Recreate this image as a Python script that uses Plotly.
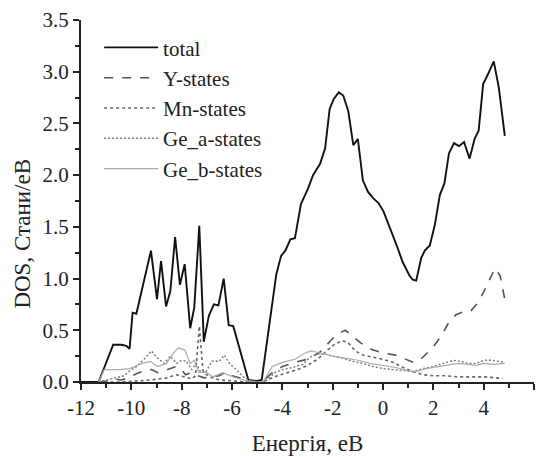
import plotly.graph_objects as go

# ---- data ----
total_E = [-12.0, -11.3, -10.72, -10.4, -10.2, -10.07, -9.95, -9.8, -9.22, -8.98, -8.82, -8.62, -8.45,
           -8.26, -8.07, -7.88, -7.66, -7.5, -7.3, -7.12, -6.92, -6.72, -6.54, -6.33, -6.13, -5.95,
           -5.35, -5.0, -4.82, -4.48, -4.24, -4.05, -3.88, -3.68, -3.5, -3.26, -2.98, -2.78, -2.5,
           -2.3, -2.12, -1.95, -1.76, -1.58, -1.38, -1.18, -1.0, -0.8, -0.6, -0.4, -0.18, 0.02,
           0.28, 0.56, 0.78, 1.05, 1.18, 1.32, 1.52, 1.66, 1.86, 2.06, 2.26, 2.44, 2.62, 2.82,
           3.02, 3.22, 3.44, 3.64, 3.8, 3.98, 4.18, 4.4, 4.6, 4.84]
total_dos = [0.0, 0.0, 0.36, 0.36, 0.35, 0.32, 0.67, 0.66, 1.27, 0.80, 1.17, 0.73, 0.88,
             1.40, 0.94, 1.14, 0.52, 0.72, 1.51, 0.39, 0.64, 0.75, 0.74, 1.00, 0.55, 0.54,
             0.02, 0.01, 0.02, 0.63, 1.04, 1.22, 1.27, 1.38, 1.39, 1.72, 1.87, 2.00, 2.11,
             2.26, 2.64, 2.74, 2.80, 2.77, 2.62, 2.29, 2.35, 1.95, 1.84, 1.78, 1.73, 1.65,
             1.49, 1.31, 1.16, 1.03, 0.99, 0.98, 1.20, 1.27, 1.32, 1.52, 1.81, 1.92, 2.21, 2.31,
             2.28, 2.32, 2.16, 2.35, 2.43, 2.88, 2.98, 3.10, 2.85, 2.38]

y_E = [-11.3, -11.0, -10.7, -10.4, -10.1, -9.8, -9.5, -9.2, -8.95, -8.7, -8.45, -8.2, -8.0, -7.85,
       -7.6, -7.35, -7.1, -6.8, -6.5, -6.3, -6.0, -5.7, -5.4, -5.0, -4.75, -4.45, -4.0, -3.5,
       -3.0, -2.5, -2.0, -1.75, -1.5, -1.2, -0.9, -0.5, 0.0, 0.5, 0.9, 1.2, 1.5, 1.7, 2.0, 2.3,
       2.6, 2.9, 3.2, 3.5, 3.75, 4.0, 4.2, 4.45, 4.65, 4.84]
y_dos = [0.0, 0.01, 0.03, 0.02, 0.04, 0.08, 0.11, 0.12, 0.09, 0.11, 0.13, 0.15, 0.12, 0.07,
         0.09, 0.06, 0.04, 0.05, 0.06, 0.09, 0.06, 0.04, 0.01, 0.0, 0.01, 0.08, 0.15, 0.19,
         0.22, 0.29, 0.42, 0.47, 0.50, 0.44, 0.38, 0.32, 0.28, 0.26, 0.22, 0.19, 0.22, 0.27, 0.34, 0.44,
         0.57, 0.65, 0.68, 0.69, 0.76, 0.87, 0.98, 1.10, 1.03, 0.80]

mn_E = [-11.3, -10.5, -9.8, -9.2, -8.6, -8.2, -7.9, -7.6, -7.45, -7.3, -7.15, -6.9, -6.5, -6.0,
        -5.4, -4.8, -4.5, -4.2, -3.8, -3.4, -3.0, -2.6, -2.2, -1.9, -1.6, -1.35, -1.1, -0.8,
        -0.4, 0.0, 0.4, 0.8, 1.2, 1.6, 2.0, 2.5, 3.0, 3.5, 4.0, 4.5, 4.75]
mn_dos = [0.0, 0.0, 0.01, 0.02, 0.04, 0.07, 0.05, 0.03, 0.06, 0.54, 0.10, 0.05, 0.02, 0.01,
          0.0, 0.0, 0.03, 0.06, 0.09, 0.12, 0.16, 0.22, 0.31, 0.37, 0.40, 0.37, 0.30, 0.26,
          0.24, 0.22, 0.19, 0.14, 0.10, 0.07, 0.06, 0.06, 0.05, 0.05, 0.05, 0.04, 0.035]

gea_E = [-11.3, -11.0, -10.6, -10.3, -10.05, -9.78, -9.5, -9.2, -8.96, -8.7, -8.45, -8.2, -8.0,
         -7.8, -7.6, -7.42, -7.25, -7.05, -6.8, -6.5, -6.3, -6.1, -5.8, -5.5, -5.25, -4.9, -4.6,
         -4.3, -4.0, -3.6, -3.2, -2.9, -2.6, -2.3, -2.0, -1.6, -1.2, -0.8, -0.4, 0.0, 0.4, 0.8,
         1.2, 1.6, 2.0, 2.4, 2.8, 3.1, 3.4, 3.7, 4.0, 4.3, 4.6, 4.84]
gea_dos = [0.0, 0.02, 0.04, 0.06, 0.11, 0.15, 0.22, 0.30, 0.23, 0.18, 0.25, 0.18, 0.21,
           0.20, 0.12, 0.18, 0.10, 0.09, 0.20, 0.20, 0.26, 0.18, 0.11, 0.04, 0.01, 0.0, 0.02,
           0.09, 0.12, 0.14, 0.17, 0.24, 0.27, 0.27, 0.25, 0.23, 0.20, 0.18, 0.15, 0.13, 0.12, 0.11,
           0.10, 0.13, 0.15, 0.18, 0.21, 0.20, 0.18, 0.18, 0.21, 0.21, 0.20, 0.19]

geb_E = [-11.3, -11.08, -10.47, -10.06, -9.58, -9.24, -8.96, -8.6, -8.36, -8.14, -7.87, -7.66,
         -7.5, -7.32, -7.05, -6.77, -6.36, -5.95, -5.4, -5.0, -4.75, -4.4, -4.0, -3.5, -3.1,
         -2.85, -2.5, -2.0, -1.5, -1.0, -0.5, 0.0, 0.5, 1.0, 1.3, 1.7, 2.2, 2.7, 3.0, 3.4, 3.7,
         4.0, 4.4, 4.84]
geb_dos = [0.0, 0.12, 0.12, 0.13, 0.18, 0.20, 0.15, 0.18, 0.27, 0.33, 0.31, 0.18,
           0.21, 0.09, 0.10, 0.05, 0.09, 0.05, 0.01, 0.0, 0.01, 0.15, 0.19, 0.22, 0.28,
           0.30, 0.28, 0.25, 0.23, 0.21, 0.18, 0.16, 0.14, 0.11, 0.10, 0.13, 0.15, 0.17, 0.18, 0.17, 0.16,
           0.18, 0.17, 0.18]

names = ["total", "Y-states", "Mn-states", "Ge_a-states", "Ge_b-states"]
x_ticks = [-12, -10, -8, -6, -4, -2, 0, 2, 4, 6]
y_ticks = [0.0, 0.5, 1.0, 1.5, 2.0, 2.5, 3.0, 3.5]

FONT = "Liberation Serif, Times New Roman, serif"
series = [
    (total_E, total_dos, dict(color="#111111", width=1.9, dash="solid")),
    (y_E, y_dos, dict(color="#555555", width=1.6, dash="dash")),
    (mn_E, mn_dos, dict(color="#666666", width=1.6, dash="dot")),
    (gea_E, gea_dos, dict(color="#777777", width=1.4, dash="2px,2px")),
    (geb_E, geb_dos, dict(color="#aaaaaa", width=1.2, dash="solid")),
]

fig = go.Figure()
for i, (xs, ys, ln) in enumerate(series):
    fig.add_trace(go.Scatter(x=xs, y=ys, mode="lines", name=names[i], line=ln))

axis_line = dict(showline=True, linewidth=2, linecolor="#222222", showgrid=False, zeroline=False)
fig.update_layout(
    width=539, height=457,
    margin=dict(l=81, r=5, t=20, b=71),
    paper_bgcolor="white", plot_bgcolor="white",
    font=dict(family=FONT, size=20, color="#222222"),
    showlegend=True,
    legend=dict(x=0.04, y=0.98, xanchor="left", yanchor="top",
                bgcolor="rgba(0,0,0,0)", font=dict(family=FONT, size=21, color="#222222"),
                itemwidth=54, tracegroupgap=0),
    xaxis=dict(range=[-12, 6], tickvals=x_ticks, ticktext=[str(v) for v in x_ticks],
               ticks="outside", ticklen=6, tickwidth=1.5, tickcolor="#222222",
               minor=dict(dtick=1, ticks="outside", ticklen=4, tickwidth=1.5, tickcolor="#222222"),
               tickfont=dict(family=FONT, size=21),
               title=dict(text="Енергія, eВ", font=dict(family=FONT, size=23), standoff=16),
               **axis_line),
    yaxis=dict(range=[0, 3.5], tickvals=y_ticks, ticktext=[f"{v:.1f}" for v in y_ticks],
               ticks="outside", ticklen=6, tickwidth=1.5, tickcolor="#222222",
               minor=dict(dtick=0.25, ticks="outside", ticklen=4, tickwidth=1.5, tickcolor="#222222"),
               tickfont=dict(family=FONT, size=21),
               **axis_line),
    xaxis2=dict(range=[-12, 6], overlaying="x", side="top", anchor="y", showticklabels=False,
                dtick=1, tick0=0, ticks="inside", ticklen=5, tickwidth=1.5, tickcolor="#222222",
                **axis_line),
    yaxis2=dict(range=[0, 3.5], overlaying="y", side="right", anchor="x", showticklabels=False,
                dtick=0.25, tick0=0, ticks="inside", ticklen=5, tickwidth=1.5, tickcolor="#222222",
                **axis_line),
)
fig.add_annotation(text="DOS, Стани/eВ", textangle=-90, xref="paper", yref="paper",
                   x=-0.128, y=0.41, xanchor="center", yanchor="middle", showarrow=False,
                   font=dict(family=FONT, size=23, color="#222222"))

fig.write_html("out.html")
